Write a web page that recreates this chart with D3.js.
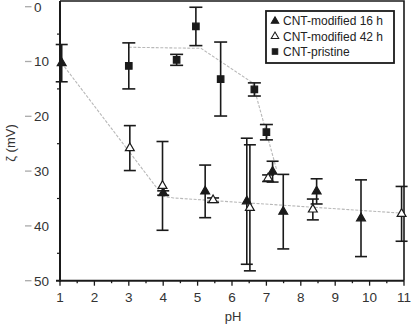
<!DOCTYPE html>
<html>
<head>
<meta charset="utf-8">
<script src="https://cdn.jsdelivr.net/npm/d3@7"></script>
<style>
  body { margin: 0; background: #fff; }
  svg { display: block; font-family: "Liberation Sans", Arial, sans-serif; }
</style>
</head>
<body>
<div id="chart"></div>
<script>
// CNT-modified 16 h (filled triangles)
const ph16 = [1.05, 4.0, 5.22, 6.43, 7.18, 7.49, 8.46, 9.75];
const zeta16 = [-10.3, -34.0, -33.7, -35.5, -30.1, -37.4, -33.7, -38.6];
const err16 = [3.4, 0.4, 4.8, 11.5, 1.9, 6.8, 2.3, 7.0];

// CNT-modified 42 h (open triangles)
const ph42 = [3.03, 3.98, 5.45, 6.52, 7.05, 8.35, 10.93];
const zeta42 = [-25.8, -32.7, -35.3, -36.7, -31.3, -37.0, -37.8];
const err42 = [4.1, 8.1, 0.4, 11.5, 0.6, 1.9, 5.0];

// CNT-pristine (filled squares)
const phPristine = [3.0, 4.39, 4.95, 5.67, 6.65, 7.0];
const zetaPristine = [-10.8, -9.7, -3.6, -13.2, -15.1, -22.9];
const errPristine = [4.2, 1.0, 3.5, 6.75, 1.2, 1.4];

// guide-to-the-eye lines
const guidePristine = [[3.0, -7.4], [5.1, -7.6], [6.6, -13.9], [7.3, -29.8]];
const guideModified = [[1.05, -10.3], [4.0, -34.6], [4.3, -34.9], [11, -37.7]];

const xTicks = d3.range(1, 12);
const yTicks = [0, -10, -20, -30, -40, -50];
const legendLabels = ["CNT-modified 16 h", "CNT-modified 42 h", "CNT-pristine"];

const W = 411, H = 325;
const svg = d3.select("#chart").append("svg").attr("width", W).attr("height", H);

const x = d3.scaleLinear().domain([1, 11]).range([60, 404]);
const y = d3.scaleLinear().domain([-50, 0]).range([280.7, 6.7]);
const yTop = 1;

const ink = "#1a1a1a";

// frame
svg.append("path")
  .attr("d", `M${x(1)},${yTop}H${x(11)}V${y(-50)}`)
  .attr("fill", "none").attr("stroke", ink).attr("stroke-width", 1.6);
svg.append("line").attr("x1", x(1)).attr("x2", x(1)).attr("y1", yTop).attr("y2", y(-50) + 1)
  .attr("stroke", ink).attr("stroke-width", 2);
svg.append("line").attr("x1", x(1) - 4).attr("x2", x(11)).attr("y1", y(-50)).attr("y2", y(-50))
  .attr("stroke", ink).attr("stroke-width", 2);

// x ticks
xTicks.forEach(t => {
  svg.append("line").attr("x1", x(t)).attr("x2", x(t)).attr("y1", y(-50)).attr("y2", y(-50) + 5)
    .attr("stroke", ink).attr("stroke-width", 1.3);
  if (t < 11) {
    svg.append("line").attr("x1", x(t + 0.5)).attr("x2", x(t + 0.5)).attr("y1", y(-50)).attr("y2", y(-50) + 2.5)
      .attr("stroke", ink).attr("stroke-width", 1.3);
  }
  svg.append("text").attr("x", x(t)).attr("y", 302).attr("text-anchor", "middle")
    .attr("font-size", 13.5).attr("fill", "#333").text(t);
});

// y ticks
yTicks.forEach(t => {
  svg.append("line").attr("x1", 25).attr("x2", 31.5).attr("y1", y(t)).attr("y2", y(t))
    .attr("stroke", "#aaa").attr("stroke-width", 1.3);
  svg.append("text").attr("x", 34).attr("y", y(t)).attr("dy", "0.36em")
    .attr("font-size", 13.5).attr("fill", "#333").text(Math.abs(t));
  if (t > -50) {
    svg.append("line").attr("x1", x(1) - 3).attr("x2", x(1)).attr("y1", y(t - 5)).attr("y2", y(t - 5))
      .attr("stroke", ink).attr("stroke-width", 1.2);
  }
});

// axis titles
svg.append("text").attr("transform", "translate(15,143) rotate(-90)")
  .attr("text-anchor", "middle").attr("font-size", 13).attr("fill", "#333").text("ζ (mV)");
svg.append("text").attr("x", 233).attr("y", 321).attr("text-anchor", "middle")
  .attr("font-size", 13).attr("fill", "#333").text("pH");

// guide lines
const line = d3.line().x(d => x(d[0])).y(d => y(d[1]));
[guidePristine, guideModified].forEach(g => {
  svg.append("path").attr("d", line(g)).attr("fill", "none")
    .attr("stroke", "#b8b8b8").attr("stroke-width", 1.1).attr("stroke-dasharray", "3,1.5");
});

// error bars
function errorBars(px, py, pe, capW) {
  px.forEach((p, i) => {
    const cx = x(p), top = y(py[i] + pe[i]), bot = y(py[i] - pe[i]);
    const g = svg.append("g").attr("stroke", ink).attr("stroke-width", 1.6);
    g.append("line").attr("x1", cx).attr("x2", cx).attr("y1", top).attr("y2", bot);
    g.append("line").attr("x1", cx - capW / 2).attr("x2", cx + capW / 2).attr("y1", top).attr("y2", top);
    g.append("line").attr("x1", cx - capW / 2).attr("x2", cx + capW / 2).attr("y1", bot).attr("y2", bot);
  });
}
errorBars(phPristine, zetaPristine, errPristine, 13);
errorBars(ph16, zeta16, err16, 12);
errorBars(ph42, zeta42, err42, 12);

const tri = d3.symbol().type(d3.symbolTriangle).size(34);
const sq = d3.symbol().type(d3.symbolSquare).size(42);

function markers(px, py, sym, fill) {
  px.forEach((p, i) => {
    svg.append("path").attr("d", sym())
      .attr("transform", `translate(${x(p)},${y(py[i])})`)
      .attr("fill", fill).attr("stroke", ink).attr("stroke-width", 1.2);
  });
}
markers(phPristine, zetaPristine, sq, ink);
markers(ph16, zeta16, tri, ink);
markers(ph42, zeta42, tri, "#fff");

// legend
svg.append("rect").attr("x", 266).attr("y", 11).attr("width", 128).attr("height", 52)
  .attr("fill", "#fff").attr("stroke", ink).attr("stroke-width", 1.8);
const legendSyms = [[tri, ink], [tri, "#fff"], [sq, ink]];
legendLabels.forEach((lab, i) => {
  const ly = 21 + i * 15.3;
  svg.append("path").attr("d", legendSyms[i][0]())
    .attr("transform", `translate(275,${ly}) scale(0.85)`)
    .attr("fill", legendSyms[i][1]).attr("stroke", ink).attr("stroke-width", 1.2);
  svg.append("text").attr("x", 283).attr("y", ly).attr("dy", "0.36em")
    .attr("font-size", 12).attr("fill", "#222").text(lab);
});
</script>
</body>
</html>
